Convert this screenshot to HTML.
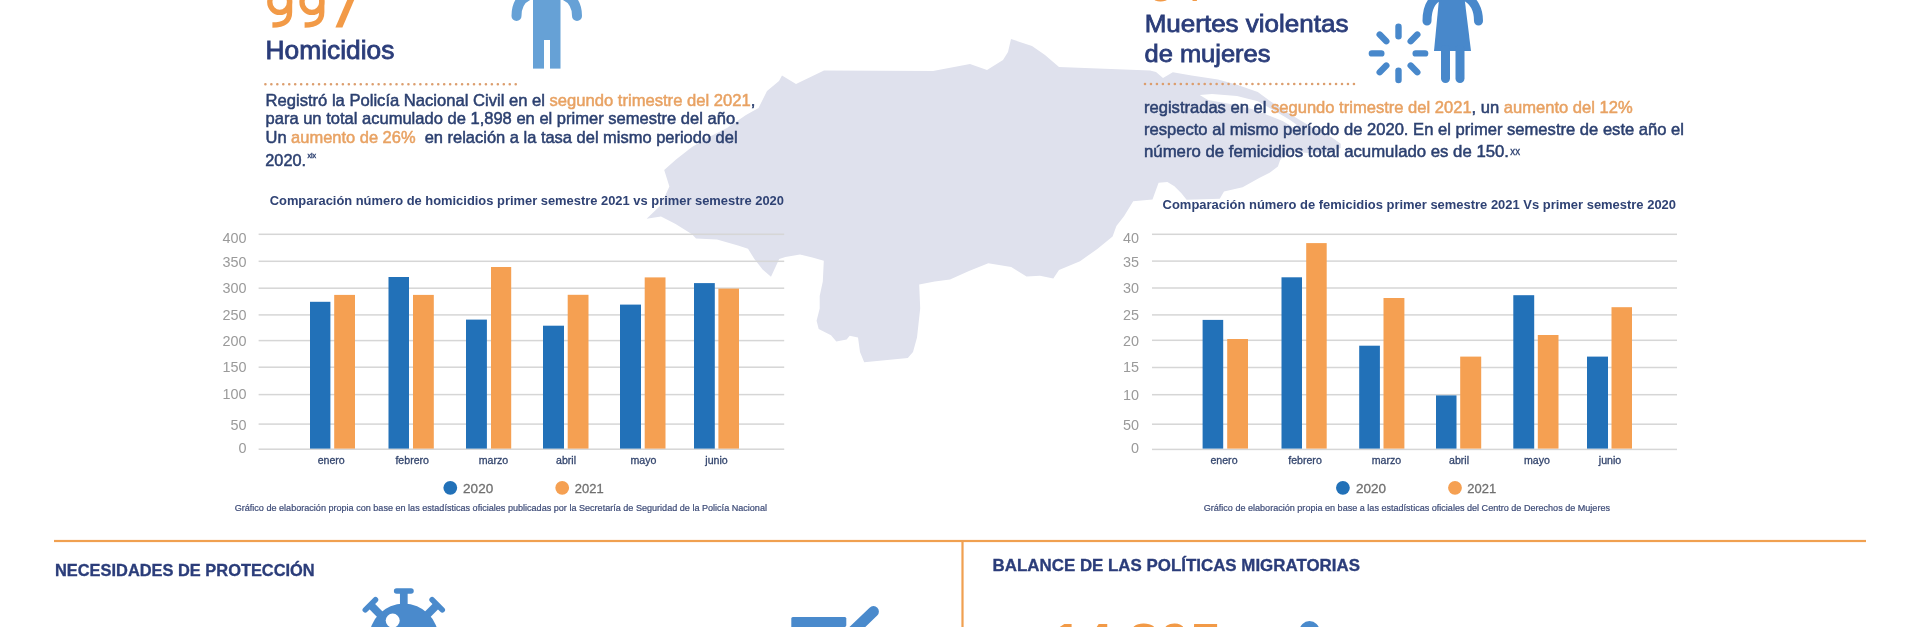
<!DOCTYPE html>
<html><head><meta charset="utf-8"><style>
html,body{margin:0;padding:0;background:#fff;}
body{width:1923px;height:627px;overflow:hidden;position:relative;}
svg{position:absolute;left:0;top:0;will-change:transform;}
text{font-family:"Liberation Sans",sans-serif;white-space:pre;}
</style></head><body>
<svg width="1923" height="627" viewBox="0 0 1923 627">
<polygon points="646.6,218.7 661,205 669.4,186.6 664.2,170 676,159.5 692,147 709,137 727,128 746,115 758.5,108 767,91 779,81 782,75.5 796,84 824,70.4 933,71 970,64 987,70 1003,60 1008,52 1011,39 1032,46 1045,55 1059,67 1150,70.5 1156,72 1163,78 1172.8,72.3 1191.5,75.4 1218,79.5 1237,84.7 1257.8,92 1270,101 1291,114.7 1311.6,127 1332,137.5 1340.7,143.8 1340.7,148 1328,152 1310,153 1292,152 1283,156 1280,160.4 1277.9,166.6 1269.6,172.8 1259.2,178 1242.6,187.3 1224,191.5 1219.8,198.8 1186.6,199.8 1181.4,193.3 1174.4,186.3 1167.4,182 1158.6,182.8 1152.5,199.5 1133.2,201.2 1124,216.3 1116.4,226 1112.6,236.4 1097.3,248.9 1080,261.3 1059,270 1053.3,278.5 1040,275.7 1026.5,276.6 1011.2,267 988.3,263.2 969,270.9 950,279.5 934.7,281.5 919.2,284.6 920.2,308.4 917,337.4 913,352 907.8,358.1 864.2,362.3 860,352 858,337.4 849.7,335.8 846.6,339.5 836.3,341.6 831,335.3 818.7,329 816.6,320.8 819.7,308.4 819.7,296 822.8,281.5 823.8,260.7 812.4,257.6 800,254.5 785.4,257 779.2,259 771,276.7 762.6,269.5 754.4,259 748,248.8 738,245.6 717,239.4 696,238.4 692,234.2 675.6,223.9 661,216.6" fill="#dfe1ed"/>
<polygon points="1199.7,95 1212,94 1237,96 1257.8,101.3 1274.3,110.6 1290,120 1300,127 1296,129 1282.6,121 1272,116.8 1253.6,109.6 1233,104.4 1208,100" fill="#fff"/>
<ellipse cx="279.7" cy="2" rx="9.9" ry="10.4" fill="none" stroke="#f29a47" stroke-width="5.3"/>
<path d="M289.55,0 L289.55,12 C289.55,21.5 283.5,25.0 272.40,25.0" fill="none" stroke="#f29a47" stroke-width="5.3"/>
<ellipse cx="311.9" cy="2" rx="9.9" ry="10.4" fill="none" stroke="#f29a47" stroke-width="5.3"/>
<path d="M321.75,0 L321.75,12 C321.75,21.5 315.7,25.0 304.60,25.0" fill="none" stroke="#f29a47" stroke-width="5.3"/>
<polygon points="335.4,27.6 342.4,27.6 357.6,-8 350.6,-8" fill="#f29a47"/>
<text x="265.6" y="59" font-size="25.4" fill="#2b3d7a" text-anchor="start" textLength="128.7" lengthAdjust="spacingAndGlyphs" stroke="#2b3d7a" stroke-width="0.8">Homicidios</text>
<line x1="265.4" y1="84.3" x2="516" y2="84.3" stroke="#dc9e6e" stroke-width="2.6" stroke-linecap="round" stroke-dasharray="0 5.96"/>
<rect x="533" y="-5" width="27.5" height="73.6" fill="#66a1d6"/>
<rect x="544" y="40" width="6" height="30" fill="#fff"/>
<path d="M532,-6 C521,-3 516.5,5 516.5,16" stroke="#66a1d6" stroke-width="10" fill="none" stroke-linecap="round"/>
<path d="M561,-6 C572,-3 577,5 577,16" stroke="#66a1d6" stroke-width="10" fill="none" stroke-linecap="round"/>
<text x="265.5" y="105.6" font-size="16.6" stroke-width="0.5" textLength="489.8" lengthAdjust="spacingAndGlyphs"><tspan fill="#2c4070" stroke="#2c4070">Registró la Policía Nacional Civil en el </tspan><tspan fill="#e8a263" stroke="#e8a263">segundo trimestre del 2021</tspan><tspan fill="#2c4070" stroke="#2c4070">,</tspan></text>
<text x="265.5" y="124.3" font-size="16.6" stroke-width="0.5" textLength="474.2" lengthAdjust="spacingAndGlyphs"><tspan fill="#2c4070" stroke="#2c4070">para un total acumulado de 1,898 en el primer semestre del año.</tspan></text>
<text x="265.5" y="143.3" font-size="16.6" stroke-width="0.5" textLength="472.1" lengthAdjust="spacingAndGlyphs"><tspan fill="#2c4070" stroke="#2c4070">Un </tspan><tspan fill="#e8a263" stroke="#e8a263">aumento de 26%</tspan><tspan fill="#2c4070" stroke="#2c4070">  en relación a la tasa del mismo periodo del</tspan></text>
<text x="265.3" y="165.7" font-size="16.6" stroke-width="0.5" textLength="40.71" lengthAdjust="spacingAndGlyphs"><tspan fill="#2c4070" stroke="#2c4070">2020.</tspan></text>
<text x="307.4" y="158.2" font-size="7.4" fill="#2c4070" text-anchor="start" textLength="8.8" lengthAdjust="spacingAndGlyphs" stroke="#2c4070" stroke-width="0.35">xix</text>
<text x="1145.5" y="0.8" font-size="52" fill="#f29a47" text-anchor="start">64</text>
<text x="1144.7" y="31.6" font-size="24.8" fill="#2b3d7a" text-anchor="start" textLength="203.8" lengthAdjust="spacingAndGlyphs" stroke="#2b3d7a" stroke-width="0.8">Muertes violentas</text>
<text x="1144.5" y="62.2" font-size="24.8" fill="#2b3d7a" text-anchor="start" textLength="126.0" lengthAdjust="spacingAndGlyphs" stroke="#2b3d7a" stroke-width="0.8">de mujeres</text>
<line x1="1145" y1="84" x2="1354.5" y2="84" stroke="#dc9e6e" stroke-width="2.6" stroke-linecap="round" stroke-dasharray="0 5.97"/>
<text x="1144.0" y="113.4" font-size="16.6" stroke-width="0.5" textLength="488.69" lengthAdjust="spacingAndGlyphs"><tspan fill="#2c4070" stroke="#2c4070">registradas en el </tspan><tspan fill="#e8a263" stroke="#e8a263">segundo trimestre del 2021</tspan><tspan fill="#2c4070" stroke="#2c4070">, un </tspan><tspan fill="#e8a263" stroke="#e8a263">aumento del 12%</tspan></text>
<text x="1144.0" y="135.2" font-size="16.6" stroke-width="0.5" textLength="540.0" lengthAdjust="spacingAndGlyphs"><tspan fill="#2c4070" stroke="#2c4070">respecto al mismo período de 2020. En el primer semestre de este año el</tspan></text>
<text x="1144.0" y="157" font-size="16.6" stroke-width="0.5" textLength="364.99" lengthAdjust="spacingAndGlyphs"><tspan fill="#2c4070" stroke="#2c4070">número de femicidios total acumulado es de 150.</tspan></text>
<text x="1510.3" y="155" font-size="10" fill="#2c4070" text-anchor="start" textLength="9.7" lengthAdjust="spacingAndGlyphs" stroke="#2c4070" stroke-width="0.3">xx</text>
<g fill="#4888cb"><path d="M1439.5,-6 L1464,-6 L1471,51 L1434,51 Z"/><rect x="1441" y="45" width="9" height="38" rx="4.5"/><rect x="1455.5" y="45" width="9" height="38" rx="4.5"/></g>
<path d="M1440,-4 C1430,0 1427,10 1427,21" stroke="#4888cb" stroke-width="9" fill="none" stroke-linecap="round"/>
<path d="M1464,-4 C1474,0 1478.5,10 1478.5,21" stroke="#4888cb" stroke-width="9" fill="none" stroke-linecap="round"/>
<line x1="1415.7" y1="53.4" x2="1425.1" y2="53.4" stroke="#4888cb" stroke-width="6.4" stroke-linecap="round"/>
<line x1="1410.7" y1="65.6" x2="1417.3" y2="72.2" stroke="#4888cb" stroke-width="6.4" stroke-linecap="round"/>
<line x1="1398.5" y1="70.6" x2="1398.5" y2="80.0" stroke="#4888cb" stroke-width="6.4" stroke-linecap="round"/>
<line x1="1386.3" y1="65.6" x2="1379.7" y2="72.2" stroke="#4888cb" stroke-width="6.4" stroke-linecap="round"/>
<line x1="1381.3" y1="53.4" x2="1371.9" y2="53.4" stroke="#4888cb" stroke-width="6.4" stroke-linecap="round"/>
<line x1="1386.3" y1="41.2" x2="1379.7" y2="34.6" stroke="#4888cb" stroke-width="6.4" stroke-linecap="round"/>
<line x1="1398.5" y1="36.2" x2="1398.5" y2="26.8" stroke="#4888cb" stroke-width="6.4" stroke-linecap="round"/>
<line x1="1410.7" y1="41.2" x2="1417.3" y2="34.6" stroke="#4888cb" stroke-width="6.4" stroke-linecap="round"/>
<rect x="258.6" y="233.55" width="525.6" height="1.5" fill="#d6d6d6"/>
<rect x="258.6" y="260.55" width="525.6" height="1.5" fill="#d6d6d6"/>
<rect x="258.6" y="287.45" width="525.6" height="1.5" fill="#d6d6d6"/>
<rect x="258.6" y="314.15" width="525.6" height="1.5" fill="#d6d6d6"/>
<rect x="258.6" y="339.85" width="525.6" height="1.5" fill="#d6d6d6"/>
<rect x="258.6" y="366.45" width="525.6" height="1.5" fill="#d6d6d6"/>
<rect x="258.6" y="393.85" width="525.6" height="1.5" fill="#d6d6d6"/>
<rect x="258.6" y="423.35" width="525.6" height="1.5" fill="#d6d6d6"/>
<rect x="258.6" y="448.45" width="525.6" height="1.5" fill="#d6d6d6"/>
<text x="246.5" y="243.1" font-size="14.4" fill="#9a9a9a" text-anchor="end">400</text>
<text x="246.5" y="266.6" font-size="14.4" fill="#9a9a9a" text-anchor="end">350</text>
<text x="246.5" y="293.3" font-size="14.4" fill="#9a9a9a" text-anchor="end">300</text>
<text x="246.5" y="320.0" font-size="14.4" fill="#9a9a9a" text-anchor="end">250</text>
<text x="246.5" y="345.9" font-size="14.4" fill="#9a9a9a" text-anchor="end">200</text>
<text x="246.5" y="372.2" font-size="14.4" fill="#9a9a9a" text-anchor="end">150</text>
<text x="246.5" y="398.9" font-size="14.4" fill="#9a9a9a" text-anchor="end">100</text>
<text x="246.5" y="429.6" font-size="14.4" fill="#9a9a9a" text-anchor="end">50</text>
<text x="246.5" y="452.7" font-size="14.4" fill="#9a9a9a" text-anchor="end">0</text>
<rect x="310" y="301.8" width="20.4" height="146.8" fill="#2271b8"/>
<rect x="334.2" y="294.9" width="20.8" height="153.7" fill="#f5a052"/>
<rect x="388.5" y="277" width="20.5" height="171.6" fill="#2271b8"/>
<rect x="413" y="294.9" width="20.8" height="153.7" fill="#f5a052"/>
<rect x="466" y="319.6" width="20.9" height="129.0" fill="#2271b8"/>
<rect x="491" y="267" width="20.2" height="181.6" fill="#f5a052"/>
<rect x="543" y="325.7" width="21.0" height="122.9" fill="#2271b8"/>
<rect x="567.7" y="294.8" width="20.8" height="153.8" fill="#f5a052"/>
<rect x="620" y="304.6" width="21.0" height="144.0" fill="#2271b8"/>
<rect x="644.7" y="277.4" width="20.8" height="171.2" fill="#f5a052"/>
<rect x="694" y="283.1" width="20.8" height="165.5" fill="#2271b8"/>
<rect x="718.4" y="288.6" width="20.6" height="160.0" fill="#f5a052"/>
<text x="331.2" y="463.9" font-size="10.6" fill="#34466e" text-anchor="middle" stroke="#34466e" stroke-width="0.3">enero</text>
<text x="412.2" y="463.9" font-size="10.6" fill="#34466e" text-anchor="middle" stroke="#34466e" stroke-width="0.3">febrero</text>
<text x="493.5" y="463.9" font-size="10.6" fill="#34466e" text-anchor="middle" stroke="#34466e" stroke-width="0.3">marzo</text>
<text x="566" y="463.9" font-size="10.6" fill="#34466e" text-anchor="middle" stroke="#34466e" stroke-width="0.3">abril</text>
<text x="643.5" y="463.9" font-size="10.6" fill="#34466e" text-anchor="middle" stroke="#34466e" stroke-width="0.3">mayo</text>
<text x="716.5" y="463.9" font-size="10.6" fill="#34466e" text-anchor="middle" stroke="#34466e" stroke-width="0.3">junio</text>
<text x="269.7" y="205.3" font-size="13.4" fill="#2f4274" font-weight="bold" text-anchor="start" textLength="514.3" lengthAdjust="spacingAndGlyphs">Comparación número de homicidios primer semestre 2021 vs primer semestre 2020</text>
<circle cx="450.3" cy="487.8" r="6.9" fill="#2271b8"/>
<text x="463.1" y="492.7" font-size="13.3" fill="#707070" text-anchor="start" textLength="30.09" lengthAdjust="spacingAndGlyphs" stroke="#707070" stroke-width="0.3">2020</text>
<circle cx="562.2" cy="487.8" r="6.9" fill="#f5a052"/>
<text x="574.8" y="492.7" font-size="13.3" fill="#707070" text-anchor="start" textLength="28.8" lengthAdjust="spacingAndGlyphs" stroke="#707070" stroke-width="0.3">2021</text>
<text x="234.7" y="510.6" font-size="8.8" fill="#3e4c78" text-anchor="start" textLength="532.3" lengthAdjust="spacingAndGlyphs" stroke="#3e4c78" stroke-width="0.2">Gráfico de elaboración propia con base en las estadísticas oficiales publicadas por la Secretaría de Seguridad de la Policía Nacional</text>
<rect x="1152" y="233.55" width="525" height="1.5" fill="#d6d6d6"/>
<rect x="1152" y="260.35" width="525" height="1.5" fill="#d6d6d6"/>
<rect x="1152" y="287.25" width="525" height="1.5" fill="#d6d6d6"/>
<rect x="1152" y="314.15" width="525" height="1.5" fill="#d6d6d6"/>
<rect x="1152" y="339.55" width="525" height="1.5" fill="#d6d6d6"/>
<rect x="1152" y="366.75" width="525" height="1.5" fill="#d6d6d6"/>
<rect x="1152" y="393.95" width="525" height="1.5" fill="#d6d6d6"/>
<rect x="1152" y="423.45" width="525" height="1.5" fill="#d6d6d6"/>
<rect x="1152" y="448.65" width="525" height="1.5" fill="#d6d6d6"/>
<text x="1139" y="243.1" font-size="14.4" fill="#9a9a9a" text-anchor="end">40</text>
<text x="1139" y="266.6" font-size="14.4" fill="#9a9a9a" text-anchor="end">35</text>
<text x="1139" y="293.2" font-size="14.4" fill="#9a9a9a" text-anchor="end">30</text>
<text x="1139" y="320.1" font-size="14.4" fill="#9a9a9a" text-anchor="end">25</text>
<text x="1139" y="345.6" font-size="14.4" fill="#9a9a9a" text-anchor="end">20</text>
<text x="1139" y="372.4" font-size="14.4" fill="#9a9a9a" text-anchor="end">15</text>
<text x="1139" y="399.6" font-size="14.4" fill="#9a9a9a" text-anchor="end">10</text>
<text x="1139" y="429.6" font-size="14.4" fill="#9a9a9a" text-anchor="end">50</text>
<text x="1139" y="452.9" font-size="14.4" fill="#9a9a9a" text-anchor="end">0</text>
<rect x="1202.6" y="319.9" width="20.6" height="128.7" fill="#2271b8"/>
<rect x="1227.2" y="339" width="20.8" height="109.6" fill="#f5a052"/>
<rect x="1281.5" y="277.3" width="20.5" height="171.3" fill="#2271b8"/>
<rect x="1306.2" y="243.1" width="20.5" height="205.5" fill="#f5a052"/>
<rect x="1359.2" y="345.7" width="20.7" height="102.9" fill="#2271b8"/>
<rect x="1383.5" y="298" width="20.9" height="150.6" fill="#f5a052"/>
<rect x="1436" y="395.4" width="20.5" height="53.2" fill="#2271b8"/>
<rect x="1460.2" y="356.6" width="21.0" height="92.0" fill="#f5a052"/>
<rect x="1513.3" y="295.2" width="20.9" height="153.4" fill="#2271b8"/>
<rect x="1537.8" y="335" width="20.7" height="113.6" fill="#f5a052"/>
<rect x="1587" y="356.6" width="21.0" height="92.0" fill="#2271b8"/>
<rect x="1611.5" y="307.2" width="20.5" height="141.4" fill="#f5a052"/>
<text x="1224" y="463.9" font-size="10.6" fill="#34466e" text-anchor="middle" stroke="#34466e" stroke-width="0.3">enero</text>
<text x="1305" y="463.9" font-size="10.6" fill="#34466e" text-anchor="middle" stroke="#34466e" stroke-width="0.3">febrero</text>
<text x="1386.4" y="463.9" font-size="10.6" fill="#34466e" text-anchor="middle" stroke="#34466e" stroke-width="0.3">marzo</text>
<text x="1459" y="463.9" font-size="10.6" fill="#34466e" text-anchor="middle" stroke="#34466e" stroke-width="0.3">abril</text>
<text x="1537" y="463.9" font-size="10.6" fill="#34466e" text-anchor="middle" stroke="#34466e" stroke-width="0.3">mayo</text>
<text x="1610" y="463.9" font-size="10.6" fill="#34466e" text-anchor="middle" stroke="#34466e" stroke-width="0.3">junio</text>
<text x="1162.6" y="209" font-size="13.4" fill="#2f4274" font-weight="bold" text-anchor="start" textLength="513.41" lengthAdjust="spacingAndGlyphs">Comparación número de femicidios primer semestre 2021 Vs primer semestre 2020</text>
<circle cx="1342.9" cy="487.8" r="6.9" fill="#2271b8"/>
<text x="1355.9" y="492.7" font-size="13.3" fill="#707070" text-anchor="start" textLength="30.09" lengthAdjust="spacingAndGlyphs" stroke="#707070" stroke-width="0.3">2020</text>
<circle cx="1455" cy="487.8" r="6.9" fill="#f5a052"/>
<text x="1467.3" y="492.7" font-size="13.3" fill="#707070" text-anchor="start" textLength="28.8" lengthAdjust="spacingAndGlyphs" stroke="#707070" stroke-width="0.3">2021</text>
<text x="1203.7" y="510.6" font-size="8.8" fill="#3e4c78" text-anchor="start" textLength="406.3" lengthAdjust="spacingAndGlyphs" stroke="#3e4c78" stroke-width="0.2">Gráfico de elaboración propia en base a las estadísticas oficiales del Centro de Derechos de Mujeres</text>
<rect x="54" y="539.9" width="1812" height="2.2" fill="#f0a050"/>
<rect x="961.4" y="541" width="2.2" height="90" fill="#f0a050"/>
<text x="55.0" y="576" font-size="17.3" fill="#2b3d7a" font-weight="bold" text-anchor="start" textLength="259.69" lengthAdjust="spacingAndGlyphs" stroke="#2b3d7a" stroke-width="0.35">NECESIDADES DE PROTECCIÓN</text>
<text x="992.6" y="571.2" font-size="17.3" fill="#2b3d7a" font-weight="bold" text-anchor="start" textLength="367.31" lengthAdjust="spacingAndGlyphs" stroke="#2b3d7a" stroke-width="0.35">BALANCE DE LAS POLÍTICAS MIGRATORIAS</text>
<circle cx="403.8" cy="638.2" r="34.6" fill="#4a8acc"/>
<line x1="403.8" y1="608.2" x2="403.8" y2="591.0" stroke="#4a8acc" stroke-width="7.7"/>
<line x1="396.6" y1="591.0" x2="411.0" y2="591.0" stroke="#4a8acc" stroke-width="5.5" stroke-linecap="round"/>
<line x1="382.6" y1="617.0" x2="370.4" y2="604.8" stroke="#4a8acc" stroke-width="7.7"/>
<line x1="365.3" y1="609.9" x2="375.5" y2="599.7" stroke="#4a8acc" stroke-width="5.5" stroke-linecap="round"/>
<line x1="425.0" y1="617.0" x2="437.2" y2="604.8" stroke="#4a8acc" stroke-width="7.7"/>
<line x1="432.1" y1="599.7" x2="442.3" y2="609.9" stroke="#4a8acc" stroke-width="5.5" stroke-linecap="round"/>
<circle cx="392.7" cy="620.6" r="7" fill="#fff"/>
<rect x="791.3" y="617" width="55" height="20" rx="1.5" fill="#4a8acc"/>
<line x1="873.4" y1="611.6" x2="848" y2="636" stroke="#fff" stroke-width="17" stroke-linecap="round"/>
<line x1="873.4" y1="611.6" x2="848" y2="636" stroke="#4a8acc" stroke-width="11" stroke-linecap="round"/>
<text x="1051" y="662.4" font-size="55.5" fill="#f29a47" font-weight="bold" text-anchor="start">14,805</text>
<circle cx="1309.5" cy="631" r="10" fill="#4a8acc"/>
</svg>
</body></html>
